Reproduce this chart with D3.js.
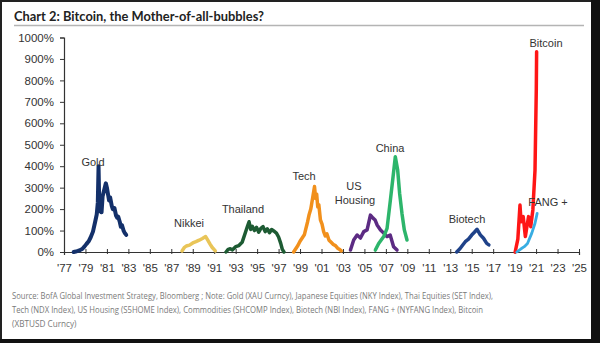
<!DOCTYPE html>
<html>
<head>
<meta charset="utf-8">
<script src="https://cdn.jsdelivr.net/npm/d3@7"></script>
<style>
  html, body { margin: 0; padding: 0; background: #fff; }
  svg { display: block; }
</style>
</head>
<body>
<svg id="chart" width="600" height="343"></svg>
<script>
// ---- data (year, % gain) ----
const yTicks = [0, 100, 200, 300, 400, 500, 600, 700, 800, 900, 1000];
const xTicks = [1977, 1979, 1981, 1983, 1985, 1987, 1989, 1991, 1993, 1995, 1997, 1999, 2001, 2003, 2005, 2007, 2009, 2011, 2013, 2015, 2017, 2019, 2021, 2023, 2025];

const gold = [[1977.9,0],[1978.1,2],[1978.3,5],[1978.5,9],[1978.7,14],[1978.9,25],[1979.1,38],[1979.3,50],[1979.5,70],[1979.7,95],[1979.9,140],[1980.05,175],[1980.15,230],[1980.22,400],[1980.3,190],[1980.4,250],[1980.5,185],[1980.6,260],[1980.75,290],[1980.9,320],[1981.0,300],[1981.1,270],[1981.2,240],[1981.3,255],[1981.45,215],[1981.55,200],[1981.7,205],[1981.85,170],[1981.95,160],[1982.05,165],[1982.2,140],[1982.3,118],[1982.4,125],[1982.55,100],[1982.65,90],[1982.8,80]];
const nikkei = [[1988.0,5],[1988.2,20],[1988.4,28],[1988.7,32],[1989.0,42],[1989.3,48],[1989.6,55],[1989.9,63],[1990.2,72],[1990.4,55],[1990.6,38],[1990.8,22],[1991.1,5]];
const thailand = [[1992.1,0],[1992.3,12],[1992.5,15],[1992.7,10],[1993.0,25],[1993.3,30],[1993.6,45],[1993.9,90],[1994.1,120],[1994.25,141],[1994.4,105],[1994.55,120],[1994.75,100],[1994.95,115],[1995.15,92],[1995.35,110],[1995.55,118],[1995.75,95],[1995.95,108],[1996.15,90],[1996.35,105],[1996.55,98],[1996.8,88],[1997.0,70],[1997.2,40],[1997.35,12],[1997.5,0]];
const tech = [[1998.4,0],[1998.6,15],[1998.8,30],[1999.0,50],[1999.2,65],[1999.4,80],[1999.55,110],[1999.7,140],[1999.85,175],[2000.0,200],[2000.1,230],[2000.2,260],[2000.35,305],[2000.45,250],[2000.55,270],[2000.65,210],[2000.75,220],[2000.9,150],[2001.05,130],[2001.2,95],[2001.35,75],[2001.5,85],[2001.7,55],[2001.9,45],[2002.1,35],[2002.3,30],[2002.5,18],[2002.7,12],[2002.85,5]];
const housing = [[2003.7,9],[2004.0,56],[2004.32,79],[2004.63,65],[2004.94,95],[2005.25,103],[2005.56,172],[2005.8,158],[2006.0,149],[2006.18,126],[2006.5,103],[2006.8,88],[2007.1,72],[2007.4,79],[2007.72,25],[2008.04,9]];
const china = [[2006.02,9],[2006.33,40],[2006.8,72],[2007.11,110],[2007.42,242],[2007.67,351],[2007.88,444],[2008.1,382],[2008.28,274],[2008.5,180],[2008.72,103],[2008.97,56]];
const biotech = [[2013.6,0],[2013.9,15],[2014.2,35],[2014.4,48],[2014.7,60],[2015.0,79],[2015.25,92],[2015.5,106],[2015.8,80],[2016.1,64],[2016.4,40],[2016.6,33]];
const bitcoin = [[2019.05,0],[2019.3,60],[2019.5,219],[2019.6,141],[2019.8,165],[2020.0,72],[2020.15,120],[2020.3,165],[2020.5,118],[2020.7,196],[2020.9,382],[2021.02,760],[2021.05,934]];
const fang = [[2019.2,0],[2019.6,15],[2019.9,25],[2020.2,40],[2020.6,88],[2020.9,134],[2021.1,180]];

const seriesNames = ["Gold","Nikkei","Thailand","Tech","US Housing","China","Biotech","Bitcoin","FANG +"];
const seriesData = [gold, nikkei, thailand, tech, housing, china, biotech, bitcoin, fang];
const seriesColors = ["#13306a","#e9c558","#1d5b33","#f1901c","#5c2b83","#2db56b","#1f4289","#ff1616","#38ade2"];

const titleText = "Chart 2:  Bitcoin, the Mother-of-all-bubbles?";
const sourceLines = [
  "Source:  BofA Global Investment Strategy, Bloomberg ; Note: Gold (XAU Curncy), Japanese Equities (NKY Index), Thai Equities (SET Index),",
  "Tech (NDX Index), US Housing (S5HOME Index), Commodities (SHCOMP Index), Biotech (NBI Index), FANG + (NYFANG Index), Bitcoin",
  "(XBTUSD Curncy)"
];

// ---- drawing ----
const svg = d3.select("#chart");
const x = d3.scaleLinear().domain([1977, 2025]).range([64, 579]);
const y = d3.scaleLinear().domain([0, 1000]).range([252, 37.5]);

svg.append("rect").attr("x",0).attr("y",0).attr("width",600).attr("height",343).attr("fill","#fff");

// title
svg.append("text").attr("x",14).attr("y",20.5)
  .attr("font-family","Lato, 'Open Sans', sans-serif").attr("font-weight","bold")
  .attr("font-size",13.5).attr("fill","#222")
  .attr("textLength",250).attr("lengthAdjust","spacingAndGlyphs")
  .text(titleText);
svg.append("line").attr("x1",14).attr("x2",584).attr("y1",25.5).attr("y2",25.5)
  .attr("stroke","#b4b4b4").attr("stroke-width",1.5);

// axes
const font = "'Liberation Sans', Arial, sans-serif";
const yAxis = svg.append("g").attr("transform",`translate(${x(1977)},0)`)
  .call(d3.axisLeft(y).tickValues(yTicks).tickSize(4).tickPadding(6).tickFormat(d => d + "%"));
const xAxis = svg.append("g").attr("transform",`translate(0,${y(0)})`)
  .call(d3.axisBottom(x).tickValues(xTicks).tickSize(3).tickPadding(9).tickFormat(d => "'" + String(d).slice(2)));
xAxis.selectAll(".tick line").attr("y1",-3).attr("y2",2);
[yAxis, xAxis].forEach(a => {
  a.select(".domain").attr("stroke","#333").attr("stroke-width",1.2);
  a.selectAll(".tick line").attr("stroke","#333");
  a.selectAll("text").attr("font-family",font).attr("font-size",11.5).attr("fill","#333");
});

// lines
const line = d3.line().x(d => x(d[0])).y(d => y(d[1]));
seriesData.forEach((s, i) => {
  svg.append("path").datum(s).attr("d", line)
    .attr("fill","none").attr("stroke", seriesColors[i])
    .attr("stroke-width", i === 0 ? 4 : (i === 8 ? 2.8 : 3.5))
    .attr("stroke-linejoin","round").attr("stroke-linecap","round");
});

// series labels
const labels = [
  {t:["Gold"], x:93, y:166},
  {t:["Nikkei"], x:189, y:227},
  {t:["Thailand"], x:243, y:213},
  {t:["Tech"], x:304, y:180},
  {t:["US","Housing"], x:354, y:190},
  {t:["China"], x:390, y:152},
  {t:["Biotech"], x:467, y:223},
  {t:["FANG +"], x:548, y:206},
  {t:["Bitcoin"], x:546, y:46.5}
];
labels.forEach(l => {
  const tx = svg.append("text").attr("font-family",font).attr("font-size",11).attr("fill","#333")
    .attr("text-anchor","middle");
  l.t.forEach((s, k) => {
    tx.append("tspan").attr("x", k === 0 ? l.x : l.x + 1).attr("y", l.y + k * 14).text(s);
  });
});

// source
const srcWidths = [481, 471, null];
sourceLines.forEach((s, i) => {
  const t = svg.append("text").attr("x",12).attr("y",299 + i*14)
    .attr("font-family","'Open Sans', sans-serif").attr("font-size",8.2).attr("fill","#7a7a7a").text(s);
  if (srcWidths[i]) t.attr("textLength",srcWidths[i]).attr("lengthAdjust","spacingAndGlyphs");
});

// dark borders of the scanned image
svg.append("rect").attr("x",0).attr("y",0).attr("width",600).attr("height",2).attr("fill","#222");
svg.append("rect").attr("x",0).attr("y",0).attr("width",2).attr("height",343).attr("fill","#222");
svg.append("rect").attr("x",591).attr("y",0).attr("width",9).attr("height",343).attr("fill","#111");
svg.append("rect").attr("x",0).attr("y",339).attr("width",600).attr("height",4).attr("fill","#111");
</script>
</body>
</html>
